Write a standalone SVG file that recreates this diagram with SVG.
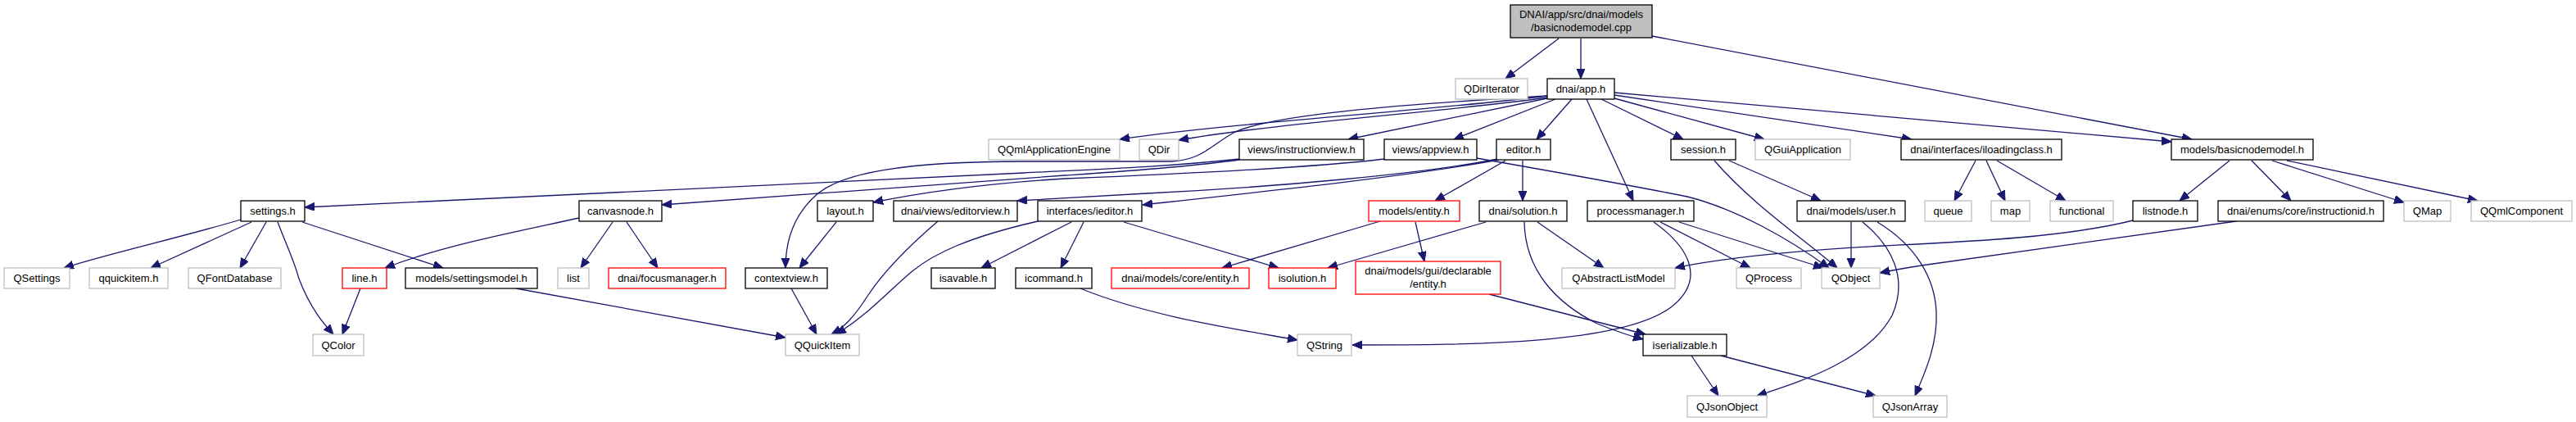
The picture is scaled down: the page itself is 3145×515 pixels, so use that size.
<svg xmlns="http://www.w3.org/2000/svg" width="3145" height="515" viewBox="0 0 3145 515">
<style>
rect{fill:#fff;stroke-width:1.3}
.n{stroke:#000}
.g{stroke:#bfbfbf}
.r{stroke:#ff0000}
.root{fill:#bfbfbf;stroke:#000}
text{font-family:"Liberation Sans",Arial,sans-serif;font-size:13px;text-anchor:middle;fill:#000}
#edges path{fill:none;stroke:#191970;stroke-width:1.3;marker-end:url(#ah)}
</style>
<defs>
<marker id="ah" markerUnits="userSpaceOnUse" markerWidth="14" markerHeight="12" refX="12" refY="5" orient="auto">
<path d="M0,0 L12,5 L0,10 z" fill="#191970" stroke="#191970" stroke-width="1"/>
</marker>
</defs>
<rect x="0" y="0" width="3145" height="515" style="fill:#fff;stroke:none"/>
<g id="edges">
<path d="M1903,47 L1838,96"/>
<path d="M1930,47 L1930,96"/>
<path d="M2017,44 L2676,170"/>
<path d="M1889,117 C1760,134 1500,150 1367,170"/>
<path d="M1889,119 C1770,136 1560,150 1439,171"/>
<path d="M1889,120 L1646,170"/>
<path d="M1899,121 L1775,170"/>
<path d="M1919,121 L1876,170"/>
<path d="M1937,121 L1994,245"/>
<path d="M1955,121 L2055,170"/>
<path d="M1971,120 L2154,170"/>
<path d="M1971,116 L2334,170"/>
<path d="M1971,113 L2651,173"/>
<path d="M1889,117 C1700,128 1560,140 1510,160 C1480,175 1470,195 1430,197 L1250,197 C1100,197 1030,212 1000,235 C972,258 959,290 959,327"/>
<path d="M1513,194 C1420,204 1330,207 1250,211 L372,253"/>
<path d="M1513,195 C1440,205 1360,210 1300,214 L808,250"/>
<path d="M1690,194 C1600,205 1450,212 1300,218 C1200,224 1120,236 1066,247"/>
<path d="M1828,194 C1740,212 1560,228 1400,236 C1330,240 1280,243 1242,245"/>
<path d="M1830,195 C1720,215 1560,232 1395,250"/>
<path d="M1838,196 L1752,245"/>
<path d="M1859,196 L1859,245"/>
<path d="M1803,193 C1900,210 2000,228 2060,240 C2120,255 2185,292 2233,327"/>
<path d="M2093,196 C2140,250 2200,290 2243,327"/>
<path d="M2111,196 L2223,245"/>
<path d="M2027,271 L2137,327"/>
<path d="M2050,271 L2226,327"/>
<path d="M2019,271 C2060,300 2085,340 2040,375 C1980,420 1800,421 1651,421"/>
<path d="M1814,271 L1621,327"/>
<path d="M1877,271 L1958,327"/>
<path d="M1861,271 C1862,330 1900,370 1950,395 C1975,405 1990,410 2006,414"/>
<path d="M1685,270 L1492,327"/>
<path d="M1728,271 L1739,319"/>
<path d="M1818,359 L2009,408"/>
<path d="M1267,270 C1180,290 1140,310 1115,330 C1090,350 1065,380 1021,408"/>
<path d="M1145,270 C1110,300 1080,330 1060,360 C1042,388 1030,400 1015,408"/>
<path d="M966,352 L997,408"/>
<path d="M1021,271 L976,327"/>
<path d="M630,352 L959,412"/>
<path d="M1308,271 L1198,327"/>
<path d="M1323,271 L1295,327"/>
<path d="M1372,271 L1561,327"/>
<path d="M1319,352 C1400,385 1500,400 1584,415"/>
<path d="M294,268 C220,290 130,310 78,327"/>
<path d="M307,271 L184,327"/>
<path d="M325,271 L293,327"/>
<path d="M339,271 C350,300 358,315 365,340 C380,380 400,400 407,408"/>
<path d="M369,271 L541,327"/>
<path d="M707,266 C620,285 540,300 470,327"/>
<path d="M748,271 L709,327"/>
<path d="M765,271 L803,327"/>
<path d="M440,352 L418,408"/>
<path d="M2260,271 L2260,327"/>
<path d="M2274,271 C2310,300 2330,340 2310,385 C2280,440 2200,465 2145,483"/>
<path d="M2292,271 C2340,300 2362,340 2364,380 C2366,420 2350,455 2338,483"/>
<path d="M2065,434 L2098,483"/>
<path d="M2101,434 L2290,483"/>
<path d="M2604,269 C2520,290 2400,295 2300,300 C2200,305 2100,315 2045,327"/>
<path d="M2730,270 L2360,322 C2330,326 2310,330 2295,333"/>
<path d="M2722,196 L2661,245"/>
<path d="M2749,196 L2797,245"/>
<path d="M2774,196 L2935,247"/>
<path d="M2792,196 L3025,245"/>
<path d="M2412,196 L2386,245"/>
<path d="M2425,196 L2448,245"/>
<path d="M2438,196 L2522,245"/>
</g>
<g id="root"><rect class="root" x="1844" y="6" width="173" height="40"/><text x="1930.5" y="22">DNAI/app/src/dnai/models</text><text x="1930.5" y="38">/basicnodemodel.cpp</text></g>
<g id="qdiriterator"><rect class="g" x="1777" y="96" width="88" height="25"/><text x="1821" y="113">QDirIterator</text></g>
<g id="app"><rect class="n" x="1889" y="96" width="82" height="25"/><text x="1930" y="113">dnai/app.h</text></g>
<g id="qqmlappengine"><rect class="g" x="1207" y="170" width="160" height="25"/><text x="1287" y="187">QQmlApplicationEngine</text></g>
<g id="qdir"><rect class="g" x="1391" y="170" width="48" height="25"/><text x="1415" y="187">QDir</text></g>
<g id="instructionview"><rect class="n" x="1513" y="170" width="152" height="25"/><text x="1589" y="187">views/instructionview.h</text></g>
<g id="appview"><rect class="n" x="1690" y="170" width="113" height="25"/><text x="1746.5" y="187">views/appview.h</text></g>
<g id="editor"><rect class="n" x="1827" y="170" width="66" height="25"/><text x="1860" y="187">editor.h</text></g>
<g id="session"><rect class="n" x="2040" y="170" width="79" height="25"/><text x="2079.5" y="187">session.h</text></g>
<g id="qguiapp"><rect class="g" x="2143" y="170" width="116" height="25"/><text x="2201" y="187">QGuiApplication</text></g>
<g id="iloadingclass"><rect class="n" x="2321" y="170" width="196" height="25"/><text x="2419" y="187">dnai/interfaces/iloadingclass.h</text></g>
<g id="basicnodemodel"><rect class="n" x="2651" y="170" width="173" height="25"/><text x="2737.5" y="187">models/basicnodemodel.h</text></g>
<g id="settings"><rect class="n" x="294" y="245" width="78" height="25"/><text x="333" y="262">settings.h</text></g>
<g id="canvasnode"><rect class="n" x="707" y="245" width="101" height="25"/><text x="757.5" y="262">canvasnode.h</text></g>
<g id="layout"><rect class="n" x="998" y="245" width="68" height="25"/><text x="1032" y="262">layout.h</text></g>
<g id="editorview"><rect class="n" x="1091" y="245" width="151" height="25"/><text x="1166.5" y="262">dnai/views/editorview.h</text></g>
<g id="ieditor"><rect class="n" x="1267" y="245" width="127" height="25"/><text x="1330.5" y="262">interfaces/ieditor.h</text></g>
<g id="modelsentity"><rect class="r" x="1671" y="245" width="111" height="25"/><text x="1726.5" y="262">models/entity.h</text></g>
<g id="solution"><rect class="n" x="1806" y="245" width="107" height="25"/><text x="1859.5" y="262">dnai/solution.h</text></g>
<g id="processmanager"><rect class="n" x="1938" y="245" width="130" height="25"/><text x="2003" y="262">processmanager.h</text></g>
<g id="user"><rect class="n" x="2194" y="245" width="132" height="25"/><text x="2260" y="262">dnai/models/user.h</text></g>
<g id="queue"><rect class="g" x="2350" y="245" width="57" height="25"/><text x="2378.5" y="262">queue</text></g>
<g id="map"><rect class="g" x="2431" y="245" width="47" height="25"/><text x="2454.5" y="262">map</text></g>
<g id="functional"><rect class="g" x="2503" y="245" width="77" height="25"/><text x="2541.5" y="262">functional</text></g>
<g id="listnode"><rect class="n" x="2604" y="245" width="79" height="25"/><text x="2643.5" y="262">listnode.h</text></g>
<g id="instructionid"><rect class="n" x="2708" y="245" width="202" height="25"/><text x="2809" y="262">dnai/enums/core/instructionid.h</text></g>
<g id="qmap"><rect class="g" x="2935" y="245" width="57" height="25"/><text x="2963.5" y="262">QMap</text></g>
<g id="qqmlcomponent"><rect class="g" x="3017" y="245" width="123" height="25"/><text x="3078.5" y="262">QQmlComponent</text></g>
<g id="qsettings"><rect class="g" x="5" y="327" width="80" height="25"/><text x="45" y="344">QSettings</text></g>
<g id="qquickitemh"><rect class="g" x="109" y="327" width="96" height="25"/><text x="157" y="344">qquickitem.h</text></g>
<g id="qfontdatabase"><rect class="g" x="230" y="327" width="113" height="25"/><text x="286.5" y="344">QFontDatabase</text></g>
<g id="line"><rect class="r" x="418" y="327" width="54" height="25"/><text x="445" y="344">line.h</text></g>
<g id="settingsmodel"><rect class="n" x="495" y="327" width="161" height="25"/><text x="575.5" y="344">models/settingsmodel.h</text></g>
<g id="list"><rect class="g" x="681" y="327" width="38" height="25"/><text x="700" y="344">list</text></g>
<g id="focusmanager"><rect class="r" x="743" y="327" width="143" height="25"/><text x="814.5" y="344">dnai/focusmanager.h</text></g>
<g id="contextview"><rect class="n" x="910" y="327" width="100" height="25"/><text x="960" y="344">contextview.h</text></g>
<g id="isavable"><rect class="n" x="1137" y="327" width="78" height="25"/><text x="1176" y="344">isavable.h</text></g>
<g id="icommand"><rect class="n" x="1240" y="327" width="93" height="25"/><text x="1286.5" y="344">icommand.h</text></g>
<g id="coreentity"><rect class="r" x="1357" y="327" width="168" height="25"/><text x="1441" y="344">dnai/models/core/entity.h</text></g>
<g id="isolution"><rect class="r" x="1549" y="327" width="82" height="25"/><text x="1590" y="344">isolution.h</text></g>
<g id="declarableentity"><rect class="r" x="1655" y="319" width="177" height="40"/><text x="1743.5" y="335">dnai/models/gui/declarable</text><text x="1743.5" y="351">/entity.h</text></g>
<g id="qabstractlistmodel"><rect class="g" x="1907" y="327" width="138" height="25"/><text x="1976" y="344">QAbstractListModel</text></g>
<g id="qprocess"><rect class="g" x="2120" y="327" width="79" height="25"/><text x="2159.5" y="344">QProcess</text></g>
<g id="qobject"><rect class="g" x="2224" y="327" width="71" height="25"/><text x="2259.5" y="344">QObject</text></g>
<g id="qcolor"><rect class="g" x="382" y="408" width="62" height="26"/><text x="413" y="425.5">QColor</text></g>
<g id="qquickitem"><rect class="g" x="959" y="408" width="90" height="26"/><text x="1004" y="425.5">QQuickItem</text></g>
<g id="qstring"><rect class="g" x="1584" y="408" width="66" height="26"/><text x="1617" y="425.5">QString</text></g>
<g id="iserializable"><rect class="n" x="2006" y="408" width="102" height="26"/><text x="2057" y="425.5">iserializable.h</text></g>
<g id="qjsonobject"><rect class="g" x="2060" y="483" width="97" height="26"/><text x="2108.5" y="500.5">QJsonObject</text></g>
<g id="qjsonarray"><rect class="g" x="2287" y="483" width="90" height="26"/><text x="2332" y="500.5">QJsonArray</text></g>
</svg>
